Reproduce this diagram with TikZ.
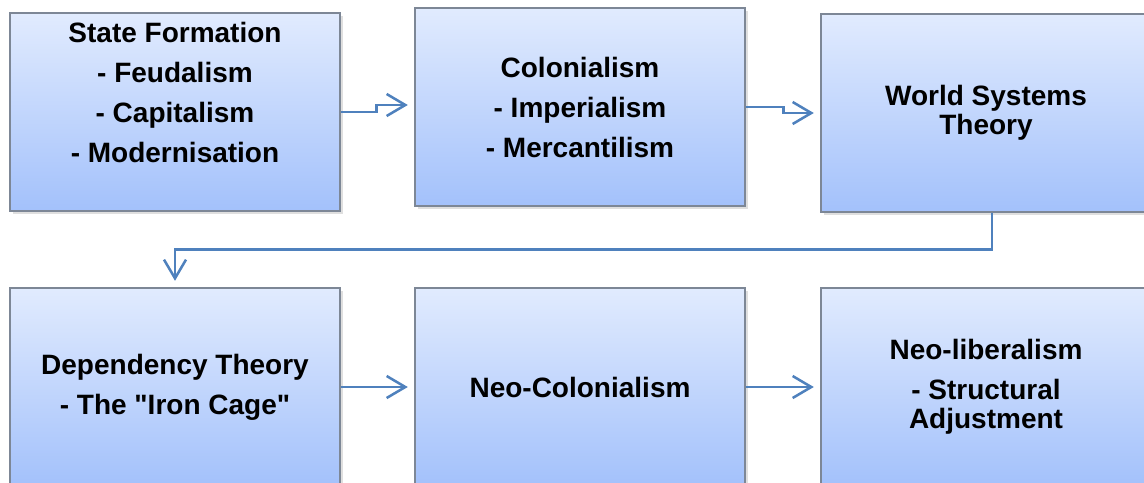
\documentclass[tikz,border=0pt]{standalone}
\usepackage{fontspec}
\setmainfont{Liberation Sans}
\usetikzlibrary{arrows.meta,shadows}
\definecolor{boxtop}{RGB}{225,235,254}
\definecolor{boxbot}{RGB}{163,193,251}
\definecolor{boxline}{RGB}{125,135,150}
\definecolor{flowc}{RGB}{79,129,189}
\tikzset{
  stage/.style={draw=boxline,line width=0.8pt,top color=boxtop,bottom color=boxbot,minimum width=247.5pt,minimum height=148.5pt,align=center,font=\fontsize{21}{21.75}\selectfont\bfseries,inner sep=4pt,drop shadow={opacity=0.25,shadow xshift=2pt,shadow yshift=-2pt}},
  flow/.style={draw=flowc,line width=1.9pt,-{Straight Barb[length=14pt,width=16.5pt]},shorten >=5pt}
}
\begin{document}
\begin{tikzpicture}[x=0.75pt,y=-0.75pt]
\useasboundingbox (0,0) rectangle (1144,482);
\node[stage] (sf) at (175,112) {State Formation\\[8.25pt]- Feudalism\\[8.25pt]- Capitalism\\[8.25pt]- Modernisation\\[8.25pt]~};
\node[stage] (col) at (580,107) {Colonialism\\[8.25pt]- Imperialism\\[8.25pt]- Mercantilism};
\node[stage] (wst) at (986,113) {World Systems\\Theory};
\node[stage] (dep) at (175,387) {Dependency Theory\\[8.25pt]- The \textquotedbl Iron Cage\textquotedbl};
\node[stage] (neo) at (580,387) {Neo-Colonialism};
\node[stage] (nlib) at (986,387) {Neo-liberalism\\[8.25pt]- Structural\\Adjustment};
\draw[flow] (sf.east) -- ++(36,0) |- ([yshift=1.5pt]col.west);
\draw[flow] (col.east) -- ++(38,0) |- (wst.west);
\draw[flow] ([xshift=4.5pt]wst.south) -- ++(0,37) -| (dep.north);
\draw[flow] (dep) -- (neo);
\draw[flow] (neo) -- (nlib);
\end{tikzpicture}
\end{document}
